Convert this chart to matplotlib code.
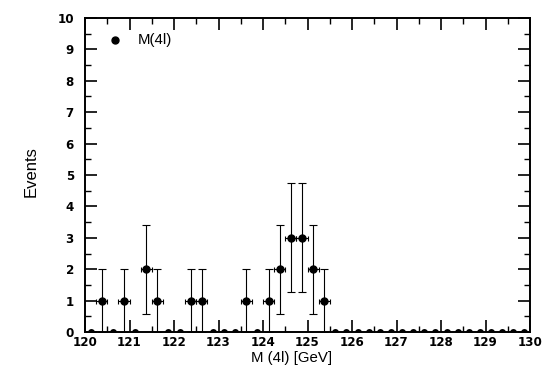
import numpy as np
import matplotlib
matplotlib.use("Agg")
import matplotlib.pyplot as plt
from matplotlib.ticker import MultipleLocator

# Histogram: 40 bins of 0.25 GeV between 120 and 130
bin_edges_lo = 120.0
bin_width = 0.25
counts = [0, 1, 0, 1, 0, 2, 1, 0, 0, 1, 1, 0, 0, 0, 1, 0,
          1, 2, 3, 3, 2, 1, 0, 0, 0, 0, 0, 0, 0, 0, 0, 0,
          0, 0, 0, 0, 0, 0, 0, 0]
x_ticks = [120, 121, 122, 123, 124, 125, 126, 127, 128, 129, 130]
y_ticks = [0, 1, 2, 3, 4, 5, 6, 7, 8, 9, 10]
legend_label = "M(4l)"
x_title = "M (4l) [GeV]"
y_title = "Events"

counts = np.array(counts, dtype=float)
centers = bin_edges_lo + bin_width * (np.arange(len(counts)) + 0.5)
errs = np.sqrt(counts)
nz = counts > 0

W, H = 551, 376
fig = plt.figure(figsize=(W / 100, H / 100), dpi=100)
ax = fig.add_axes([85 / W, 1 - 332 / H, (530 - 85) / W, (332 - 18) / H])

# zero bins: markers at 0, only the upper half visible above the frame
ax.plot(centers[~nz], counts[~nz], marker='o', linestyle='none', color='black',
        ms=5, fillstyle='top', markeredgewidth=0, zorder=3)
# vertical errors
ax.errorbar(centers[nz], counts[nz], yerr=errs[nz], fmt='none', ecolor='black',
            elinewidth=0.8, capsize=3, capthick=0.8, zorder=3)
# horizontal errors
ax.errorbar(centers[nz], counts[nz], xerr=bin_width / 2, fmt='none', ecolor='black',
            elinewidth=0.8, capsize=1.8, capthick=0.8, zorder=3)
ax.plot(centers[nz], counts[nz], 'o', color='black', ms=5, zorder=4)

ax.set_xlim(120, 130)
ax.set_ylim(0, 10)
ax.set_xticks(x_ticks)
ax.set_yticks(y_ticks)
ax.xaxis.set_minor_locator(MultipleLocator(0.5))
ax.yaxis.set_minor_locator(MultipleLocator(0.5))

for s in ax.spines.values():
    s.set_linewidth(1.4)

tickfont = dict(family='DejaVu Sans', weight='bold', size=8.6)
ax.tick_params(which='both', direction='in', top=True, right=True)
ax.tick_params(axis='x', which='both', pad=3.2)
ax.tick_params(axis='y', which='both', pad=8)
ax.tick_params(which='major', length=8.6, width=1.2)
ax.tick_params(which='minor', length=4.3, width=1.0)
ax.set_xticklabels([str(v) for v in x_ticks], fontdict=tickfont)
ax.set_yticklabels([str(v) for v in y_ticks], fontdict=tickfont)

labfont = dict(family='Liberation Sans', size=10.8)
fig.text(292 / W, 1 - 358 / H, x_title, ha='center', va='center', **labfont)
fig.text(31 / W, 1 - 172 / H, y_title, ha='center', va='center', rotation=90,
         family='Liberation Sans', size=12)

# legend
ax.plot([(115 - 85) / 445], [(332 - 40) / 314], 'o', color='black', ms=5,
        transform=ax.transAxes, clip_on=False)
ax.text((138 - 85) / 445, (332 - 40) / 314, legend_label, transform=ax.transAxes,
        ha='left', va='center', **labfont)

fig.savefig("out.png", dpi=100)
